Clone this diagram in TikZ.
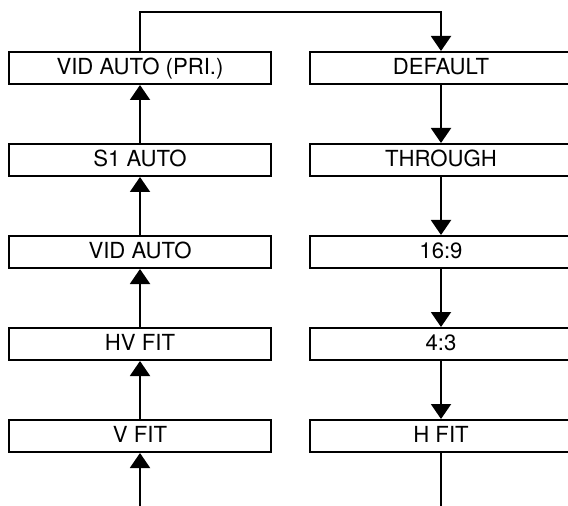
\documentclass[tikz,border=0pt]{standalone}
\usepackage{fontspec}
\setmainfont{TeX Gyre Heros}
\usepackage{tikz}
\usetikzlibrary{arrows.meta}
\tikzset{modebox/.style={draw, line width=0.4mm, minimum width=52.4mm, minimum height=6.4mm, inner sep=0pt, text height=0.72em, text depth=0pt, font=\fontsize{12.6}{15}\selectfont}}
\tikzset{flow/.style={line width=0.4mm, -{Triangle[width=4mm,length=3mm]}}}
\tikzset{plain/.style={line width=0.4mm}}

\begin{document}
\begin{tikzpicture}[x=0.2mm,y=-0.2mm]
\useasboundingbox (0,0) rectangle (568,506);
\node[modebox] (pri) at (140,68) {VID AUTO (PRI.)};
\node[modebox] (sone) at (140,160) {S1 AUTO};
\node[modebox] (vid) at (140,252) {VID AUTO};
\node[modebox] (hvfit) at (140,344) {HV FIT};
\node[modebox] (vfit) at (140,436) {V FIT};
\node[modebox] (default) at (441,68) {DEFAULT};
\node[modebox] (through) at (441,160) {THROUGH};
\node[modebox] (wide) at (441,252) {16:9};
\node[modebox] (four) at (441,344) {4:3};
\node[modebox] (hfit) at (441,436) {H FIT};
\coordinate (toprun) at (290,12);
\coordinate (leftend) at (140,510);
\coordinate (rightend) at (441,510);
\draw[flow] (pri.north) -- (pri.north |- toprun) -| (default.north);
\draw[flow] (default) -- (through);
\draw[flow] (through) -- (wide);
\draw[flow] (wide) -- (four);
\draw[flow] (four) -- (hfit);
\draw[plain] (hfit) -- (rightend);
\draw[flow] (leftend) -- (vfit);
\draw[flow] (vfit) -- (hvfit);
\draw[flow] (hvfit) -- (vid);
\draw[flow] (vid) -- (sone);
\draw[flow] (sone) -- (pri);
\end{tikzpicture}
\end{document}
